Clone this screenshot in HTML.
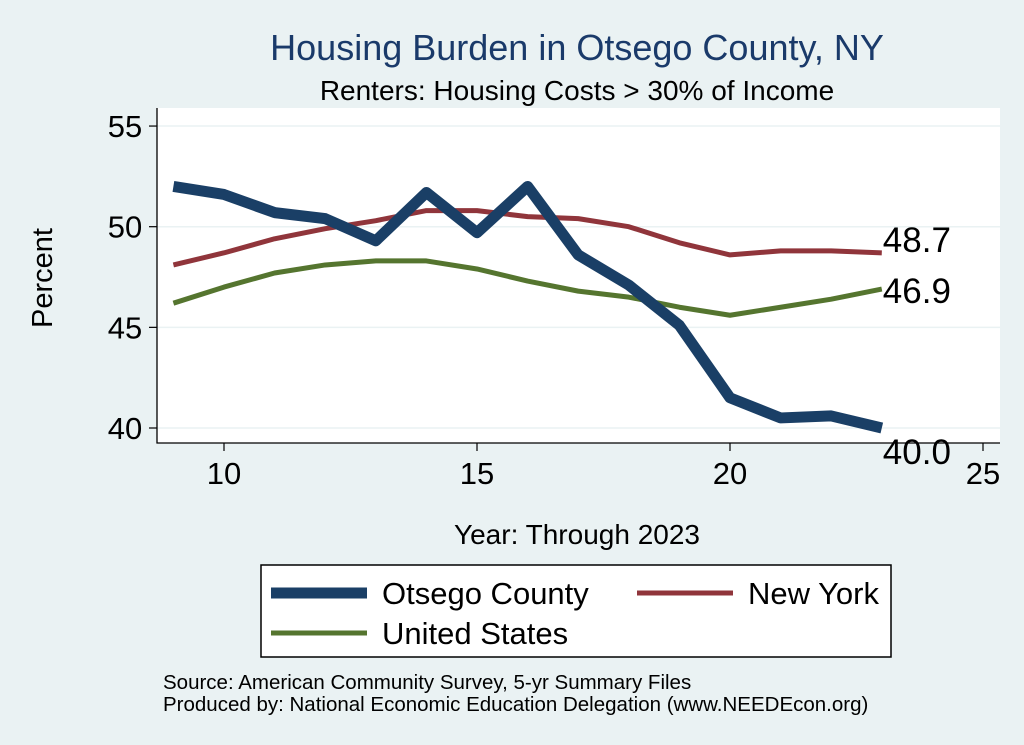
<!DOCTYPE html>
<html><head><meta charset="utf-8"><style>
body{margin:0;background:#eaf2f3;}
svg{display:block;font-family:"Liberation Sans",Arial,sans-serif;}
</style></head><body>
<svg width="1024" height="745" viewBox="0 0 1024 745">
<rect x="0" y="0" width="1024" height="745" fill="#eaf2f3"/>
<text x="577" y="60" font-size="36" fill="#1a3a6a" text-anchor="middle">Housing Burden in Otsego County, NY</text>
<text x="577" y="100" font-size="28" fill="#000" text-anchor="middle">Renters: Housing Costs &gt; 30% of Income</text>
<rect x="157" y="108" width="843" height="335" fill="#fff"/>
<g id="grid"></g>
<g id="axes"></g>
<g id="series"></g>
<g id="labels"></g>
<text x="52" y="278" font-size="29" text-anchor="middle" transform="rotate(-90 52 278)">Percent</text>
<text x="577" y="544" font-size="28" text-anchor="middle">Year: Through 2023</text>
<g>
<rect x="261" y="565" width="630" height="92" fill="#fff" stroke="#000" stroke-width="1.5"/>
<line x1="271" y1="593" x2="367" y2="593" stroke="#1a3f66" stroke-width="11"/>
<text x="382" y="604" font-size="31">Otsego County</text>
<line x1="637" y1="593" x2="733" y2="593" stroke="#90353b" stroke-width="5"/>
<text x="748" y="604" font-size="31">New York</text>
<line x1="271" y1="633" x2="367" y2="633" stroke="#55752f" stroke-width="5"/>
<text x="382" y="644" font-size="31">United States</text>
</g>
<text x="163" y="689" font-size="20.5">Source: American Community Survey, 5-yr Summary Files</text>
<text x="163" y="711" font-size="20.5">Produced by: National Economic Education Delegation (www.NEEDEcon.org)</text>
</svg>
<script>
const years=[9,10,11,12,13,14,15,16,17,18,19,20,21,22,23];
const otsego=[52.0,51.6,50.7,50.4,49.3,51.7,49.7,52.0,48.6,47.1,45.1,41.5,40.5,40.6,40.0];
const newYork=[48.1,48.7,49.4,49.9,50.3,50.8,50.8,50.5,50.4,50.0,49.2,48.6,48.8,48.8,48.7];
const unitedStates=[46.2,47.0,47.7,48.1,48.3,48.3,47.9,47.3,46.8,46.5,46.0,45.6,46.0,46.4,46.9];
const yTicks=[40,45,50,55];
const xTicks=[10,15,20,25];
const NS='http://www.w3.org/2000/svg';
function xs(v){return 224+(v-10)*50.6;}
function ys(v){return 428-(v-40)*20.13;}
function mk(tag,attrs,parent){const e=document.createElementNS(NS,tag);for(const k in attrs)e.setAttribute(k,attrs[k]);document.getElementById(parent).appendChild(e);return e;}
yTicks.forEach(t=>{
 const g=mk('line',{x1:157,x2:1000,y1:ys(t),y2:ys(t),stroke:'#eaf2f3','stroke-width':1.5},'grid');
 
 
 const tk=mk('line',{x1:149,x2:157,y1:ys(t),y2:ys(t),stroke:'#000','stroke-width':1.2},'axes');
 
 
 const tx=mk('text',{x:125,y:ys(t)+11,'font-size':31,'text-anchor':'middle'},'axes');tx.textContent=t;
 
 
});
xTicks.forEach(t=>{
 const tk=mk('line',{x1:xs(t),x2:xs(t),y1:443,y2:451,stroke:'#000','stroke-width':1.2},'axes');
 
 
 const tx=mk('text',{x:xs(t),y:484,'font-size':31,'text-anchor':'middle'},'axes');tx.textContent=t;
 
 
});
const ya=mk('line',{x1:157,x2:157,y1:108,y2:443.5,stroke:'#000','stroke-width':1.3},'axes');


const xa=mk('line',{x1:156.5,x2:1000,y1:443,y2:443,stroke:'#000','stroke-width':1.3},'axes');


function line(vals,color,w,name){
 const p=mk('polyline',{points:vals.map((v,i)=>xs(years[i])+','+ys(v)).join(' '),fill:'none',stroke:color,'stroke-width':w,'stroke-linejoin':'round'},'series');
 
 
}
line(unitedStates,'#55752f',5,'line-united-states');
line(newYork,'#90353b',5,'line-new-york');
line(otsego,'#1a3f66',11,'line-otsego-county');
const last=years.length-1;
[[newYork,-11],[unitedStates,4],[otsego,26]].forEach(([s,dy],i)=>{
 const tx=mk('text',{x:xs(years[last])+1,y:ys(s[last])+10+dy,'font-size':35},'labels');
 tx.textContent=s[last].toFixed(1);
 
 
});
</script>
</body></html>
